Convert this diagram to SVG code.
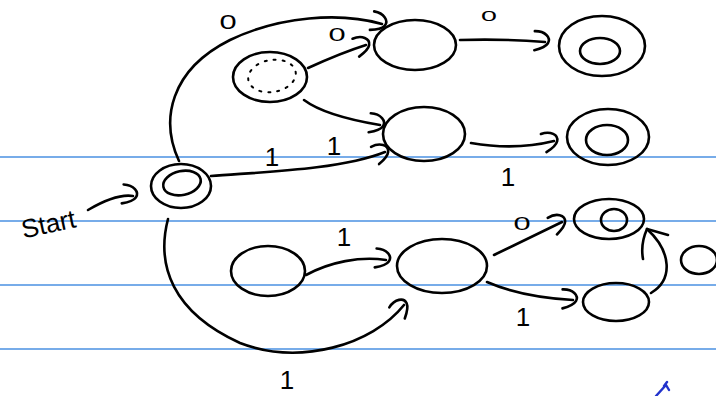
<svg xmlns="http://www.w3.org/2000/svg" width="716" height="396" viewBox="0 0 716 396">
<style>
.rule{stroke:#4a90e2;stroke-width:1.5}
.ink{fill:none;stroke:#000;stroke-width:2.6;stroke-linecap:round;stroke-linejoin:round}
.dot{fill:none;stroke:#000;stroke-width:2;stroke-dasharray:2 7;stroke-linecap:round}
.lbl{font-family:"Liberation Sans",Arial,sans-serif;font-size:26px;fill:#000;text-anchor:middle}
.zero{font-family:"Liberation Sans",Arial,sans-serif;font-size:22px;fill:#000;text-anchor:middle}
</style>
<defs>
<marker id="hook" markerUnits="userSpaceOnUse" orient="auto" refX="0" refY="0" markerWidth="30" markerHeight="30" viewBox="-15 -15 30 30" overflow="visible">
<path d="M-11,-10 C-1,-11 6,-5 3,1 C1,5 -4,7 -10,9" fill="none" stroke="#000" stroke-width="2.6" stroke-linecap="round"/>
</marker>
</defs>
<rect width="716" height="396" fill="#fff"/>
<g id="rules">
<line class="rule" x1="0" y1="157" x2="716" y2="157"/>
<line class="rule" x1="0" y1="221" x2="716" y2="221"/>
<line class="rule" x1="0" y1="285" x2="716" y2="285"/>
<line class="rule" x1="0" y1="349" x2="716" y2="349"/>
</g>
<g id="connectors">
<path class="ink" d="M88,210 C105,200 120,194 133,196" marker-end="url(#hook)"/>
<path class="ink" d="M179,161 C160,120 170,70 230,40 C280,16 340,12 382,24" marker-end="url(#hook)"/>
<path class="ink" d="M308,68 C330,58 350,50 366,45" marker-end="url(#hook)"/>
<path class="ink" d="M304,100 C320,112 350,120 380,125" marker-end="url(#hook)"/>
<path class="ink" d="M211,176 C260,172 340,170 385,152" marker-end="url(#hook)"/>
<path class="ink" d="M460,40 C490,39 520,40 545,42" marker-end="url(#hook)"/>
<path class="ink" d="M471,143 C500,148 530,147 554,141" marker-end="url(#hook)"/>
<path class="ink" d="M168,219 C156,265 172,312 240,343 C300,366 372,345 404,305" marker-end="url(#hook)"/>
<path class="ink" d="M306,275 C330,262 360,256 386,260" marker-end="url(#hook)"/>
<path class="ink" d="M494,255 L562,222" marker-end="url(#hook)"/>
<path class="ink" d="M487,282 C510,292 540,298 573,300" marker-end="url(#hook)"/>
<path class="ink" d="M651,293 C673,280 672,252 647,229"/>
<path class="ink" d="M643,259 C641,248 643,238 647,229 L668,235"/>
</g>
<g id="labels">
<text x="48" y="233" class="lbl" font-size="34" transform="rotate(-12 48 222)">Start</text>
<text x="228" y="30" class="zero" transform="translate(228 22) scale(1.4 0.9) translate(-228 -22)">0</text>
<text x="337" y="43" class="zero" transform="translate(337 35) scale(1.4 0.8) translate(-337 -35)">0</text>
<text x="489" y="23" class="zero" transform="translate(489 16) scale(1.3 0.7) translate(-489 -16)">0</text>
<text x="522" y="232" class="zero" transform="translate(522 224) scale(1.4 0.8) translate(-522 -224)">0</text>
<text x="272" y="166" class="lbl">1</text>
<text x="334" y="155" class="lbl">1</text>
<text x="508" y="186" class="lbl">1</text>
<text x="344" y="246" class="lbl">1</text>
<text x="523" y="326" class="lbl">1</text>
<text x="287" y="389" class="lbl" font-size="24">1</text>
</g>
<g id="q0">
<ellipse class="ink" cx="181" cy="186" rx="30" ry="22"/>
<ellipse class="ink" cx="182" cy="183" rx="19" ry="12" transform="rotate(-12 182 183)"/>
</g>
<g id="qd">
<ellipse class="ink" cx="270" cy="77" rx="37" ry="25"/>
<ellipse class="dot" cx="272" cy="76" rx="24" ry="16" transform="rotate(-10 272 76)"/>
</g>
<g id="q1">
<ellipse class="ink" cx="415" cy="45" rx="41" ry="25"/>
</g>
<g id="q2">
<ellipse class="ink" cx="602" cy="46" rx="43" ry="30"/>
<ellipse class="ink" cx="600" cy="51" rx="20" ry="13"/>
</g>
<g id="q3">
<ellipse class="ink" cx="424" cy="134" rx="41" ry="27"/>
</g>
<g id="q4">
<ellipse class="ink" cx="608" cy="137" rx="41" ry="28"/>
<ellipse class="ink" cx="607" cy="140" rx="21" ry="15"/>
</g>
<g id="q5">
<ellipse class="ink" cx="268" cy="271" rx="37" ry="25"/>
</g>
<g id="q6">
<ellipse class="ink" cx="442" cy="266" rx="45" ry="27"/>
</g>
<g id="q7">
<ellipse class="ink" cx="609" cy="219" rx="35" ry="20"/>
<ellipse class="ink" cx="614" cy="220" rx="13" ry="11"/>
</g>
<g id="q8">
<ellipse class="ink" cx="616" cy="302" rx="33" ry="19"/>
</g>
<g id="q9">
<ellipse class="ink" cx="699" cy="260" rx="18" ry="14"/>
</g>
<path d="M656,396 L666,385 L669,390 M664,386 L667,382" fill="none" stroke="#2233cc" stroke-width="2.4" stroke-linecap="round"/>
</svg>
